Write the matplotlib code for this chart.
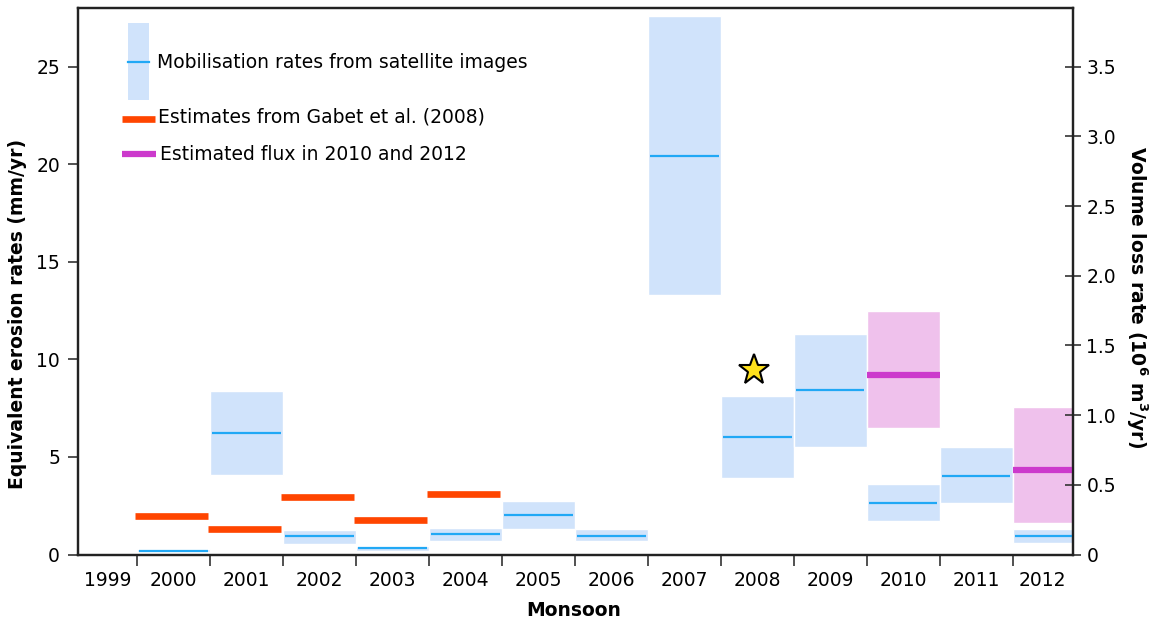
import matplotlib
matplotlib.use("Agg")
import matplotlib.pyplot as plt
import numpy as np

# ---------------- data ----------------
years = [1999, 2000, 2001, 2002, 2003, 2004, 2005, 2006, 2007, 2008, 2009, 2010, 2011, 2012]

# Mobilisation rates from satellite images (mm/yr): year, low, median, high
sat_years = [2000, 2001, 2002, 2003, 2004, 2005, 2006, 2007, 2008, 2009, 2010, 2011, 2012]
sat_low = [0.13, 4.08, 0.55, 0.19, 0.71, 1.29, 0.69, 13.29, 3.94, 5.53, 1.70, 2.62, 0.57]
sat_med = [0.20, 6.23, 0.95, 0.33, 1.05, 2.03, 0.96, 20.44, 6.01, 8.44, 2.62, 4.04, 0.95]
sat_high = [0.30, 8.38, 1.27, 0.44, 1.36, 2.73, 1.31, 27.60, 8.14, 11.32, 3.62, 5.51, 1.31]

# Estimates from Gabet et al. (2008)
gabet_years = [2000, 2001, 2002, 2003, 2004]
gabet_vals = [1.97, 1.31, 2.95, 1.77, 3.12]

# Estimated flux in 2010 and 2012
flux_years = [2010, 2012]
flux_low = [6.50, 1.63]
flux_med = [9.20, 4.32]
flux_high = [12.49, 7.58]

# star marker (2008)
star_year = 2007.95
star_val = 9.46

left_ticks = [0, 5, 10, 15, 20, 25]
right_ticks = [0, 0.5, 1.0, 1.5, 2.0, 2.5, 3.0, 3.5]
right_ticklabels = ["0", "0.5", "1.0", "1.5", "2.0", "2.5", "3.0", "3.5"]
vol_factor = 0.14  # 10^6 m3/yr per mm/yr

# ---------------- style ----------------
blue_fill = "#D0E3FB"
blue_line = "#21A8F5"
orange = "#FF4500"
pink_fill = "#EFC1EC"
magenta = "#CC3ACC"
FS = 13.5

plt.rcParams["font.family"] = ["DejaVu Sans"]

fig = plt.figure(figsize=(11.54, 6.23), dpi=100)
ax = fig.add_axes([78 / 1154, 68.5 / 623, 994.5 / 1154, 546.2 / 623])

xmin, xmax = 1998.694, 2012.32
ymax = 28.0
ax.set_xlim(xmin, xmax)
ax.set_ylim(0, ymax)

# satellite boxes
sx = np.array(sat_years, dtype=float)
slo = np.array(sat_low)
shi = np.array(sat_high)
ax.bar(sx, shi - slo, bottom=slo, width=1.0, color=blue_fill,
       edgecolor="white", linewidth=1.0, zorder=2)
ax.hlines(sat_med, sx - 0.47, sx + 0.47, color=blue_line, lw=1.6, zorder=3)

# flux boxes
fx = np.array(flux_years, dtype=float)
flo = np.array(flux_low)
fhi = np.array(flux_high)
ax.bar(fx, fhi - flo, bottom=flo, width=1.0, color=pink_fill,
       edgecolor="white", linewidth=1.0, zorder=2)
ax.hlines(flux_med, fx - 0.5, fx + 0.5, color=magenta, lw=4.5, zorder=4)

# Gabet estimates
gx = np.array(gabet_years, dtype=float)
ax.hlines(gabet_vals, gx - 0.53, gx + 0.48, color=orange, lw=4.8, zorder=4)

# star
ax.plot([star_year], [star_val], marker="*", ms=23, mfc="#FFE11C", mec="black",
        mew=1.5, ls="none", zorder=5)

# ---------------- axes ----------------
bounds = [y + 0.5 for y in years[:-1]]
ax.set_xticks(bounds)
ax.set_xticklabels([])
label_pos = []
for y in years:
    lo = max(y - 0.5, xmin)
    hi = min(y + 0.5, xmax)
    label_pos.append((lo + hi) / 2)
ax.set_xticks(label_pos, minor=True)
ax.set_xticklabels([str(y) for y in years], minor=True, fontsize=FS)
ax.tick_params(axis="x", which="major", direction="out", length=8, width=1.2, color="#333333")
ax.tick_params(axis="x", which="minor", length=0, pad=12)

ax.set_yticks(left_ticks)
ax.set_yticklabels([str(t) for t in left_ticks], fontsize=FS)
ax.tick_params(axis="y", direction="out", length=7, width=1.2, pad=6, color="#333333")

for s in ax.spines.values():
    s.set_linewidth(1.6)
    s.set_color("#222222")

ax2 = ax.twinx()
ax2.set_ylim(0, ymax * vol_factor)
ax2.set_yticks(right_ticks)
ax2.set_yticklabels(right_ticklabels, fontsize=FS)
ax2.tick_params(axis="y", direction="inout", length=12, width=1.2, pad=4, color="#333333")
for s in ax2.spines.values():
    s.set_linewidth(1.6)
    s.set_color("#222222")

# axis titles
fig.text(18 / 1154, 1 - 314 / 623, "Equivalent erosion rates (mm/yr)", rotation=90,
         fontsize=FS, fontweight="bold", ha="center", va="center")
fig.text(574 / 1154, 1 - 610 / 623, "Monsoon", fontsize=FS, fontweight="bold",
         ha="center", va="center")
fig.text(1137 / 1154, 1 - 297 / 623,
         r"Volume loss rate (10$^{\mathbf{6}}$ m$^{\mathbf{3}}$/yr)", rotation=270,
         fontsize=FS, fontweight="bold", ha="center", va="center")

# ---------------- custom legend ----------------
tr = ax.transAxes
ax.add_patch(plt.Rectangle((0.0500, 0.8321), 0.0214, 0.1415, transform=tr,
                           facecolor=blue_fill, edgecolor="none", zorder=6))
ax.plot([0.0500, 0.0714], [0.9022, 0.9022], transform=tr, color=blue_line, lw=1.6, zorder=7)
ax.text(0.0797, 0.9000, "Mobilisation rates from satellite images", transform=tr,
        fontsize=FS, va="center", ha="left", zorder=7)
ax.plot([0.0438, 0.0774], [0.7973, 0.7973], transform=tr, color=orange, lw=4.8,
        solid_capstyle="butt", zorder=7)
ax.text(0.0807, 0.8015, "Estimates from Gabet et al. (2008)", transform=tr,
        fontsize=FS, va="center", ha="left", zorder=7)
ax.plot([0.0438, 0.0784], [0.7332, 0.7332], transform=tr, color=magenta, lw=4.5,
        solid_capstyle="butt", zorder=7)
ax.text(0.0825, 0.7332, "Estimated flux in 2010 and 2012", transform=tr,
        fontsize=FS, va="center", ha="left", zorder=7)

fig.savefig("out.png", dpi=100)
